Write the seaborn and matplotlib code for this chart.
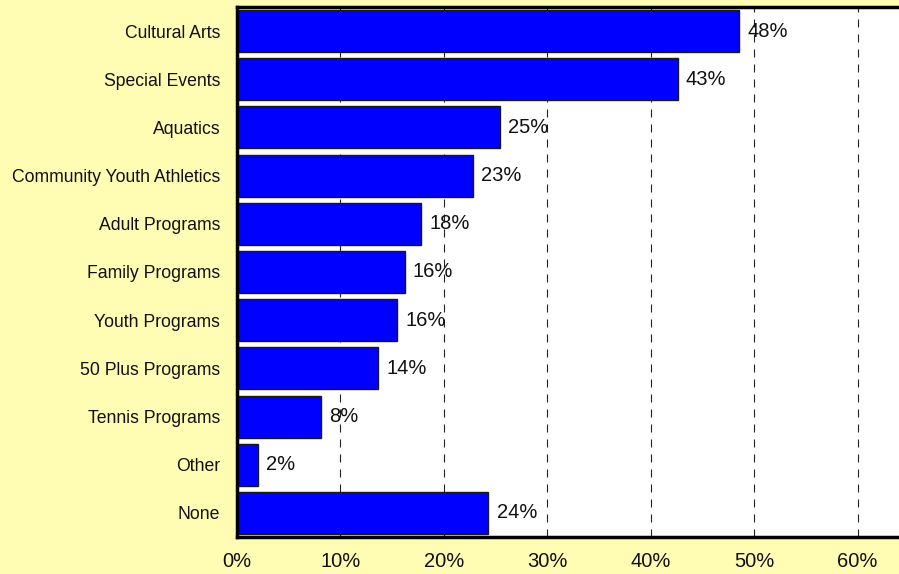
import matplotlib
matplotlib.use("Agg")
import matplotlib.pyplot as plt
import seaborn as sns
import pandas as pd
from matplotlib.ticker import PercentFormatter, MultipleLocator

categories = ["Cultural Arts", "Special Events", "Aquatics", "Community Youth Athletics",
              "Adult Programs", "Family Programs", "Youth Programs", "50 Plus Programs",
              "Tennis Programs", "Other", "None"]
values = [0.485, 0.426, 0.254, 0.228, 0.178, 0.162, 0.155, 0.136, 0.081, 0.020, 0.243]
labels = ["48%", "43%", "25%", "23%", "18%", "16%", "16%", "14%", "8%", "2%", "24%"]

df = pd.DataFrame({"category": categories, "value": values})

sns.set_theme(style="white")
plt.rcParams["font.family"] = ["Liberation Sans", "DejaVu Sans"]

bg = "#FFFDB3"
fig = plt.figure(figsize=(8.99, 5.74), dpi=100, facecolor=bg)
ax = fig.add_axes([237 / 899, 1 - 537 / 574, (899 - 237) / 899, (537 - 7) / 574])
ax.set_facecolor("white")

sns.barplot(data=df, x="value", y="category", ax=ax, color="#0000FF",
            edgecolor="#1a1a1a", linewidth=1.0, width=0.87, saturation=1, zorder=3)

ax.set_xlim(0, 0.64)
ax.set_ylim(10.5, -0.5)
ax.xaxis.set_major_locator(MultipleLocator(0.1))
ax.xaxis.set_major_formatter(PercentFormatter(1.0, decimals=0))
ax.grid(axis="x", color="#222222", linestyle=(0, (7.2, 6.3)), linewidth=0.8, zorder=1)
ax.grid(axis="y", visible=False)
ax.set_xlabel("")
ax.set_ylabel("")
ax.tick_params(axis="x", labelsize=14.5, length=0, pad=11, colors="#111111")
ax.tick_params(axis="y", labelsize=12.7, length=0, pad=12, colors="#111111")

for side in ["top", "left", "bottom"]:
    ax.spines[side].set_visible(True)
    ax.spines[side].set_color("black")
    ax.spines[side].set_linewidth(2.5)
    ax.spines[side].set_zorder(5)
ax.spines["right"].set_visible(False)

for i, (v, lab) in enumerate(zip(values, labels)):
    ax.annotate(lab, xy=(v, i), xytext=(6, 0), textcoords="offset points",
                va="center", ha="left", fontsize=14.5, color="#111111", zorder=6)

fig.savefig("out.png", dpi=100, facecolor=bg)
